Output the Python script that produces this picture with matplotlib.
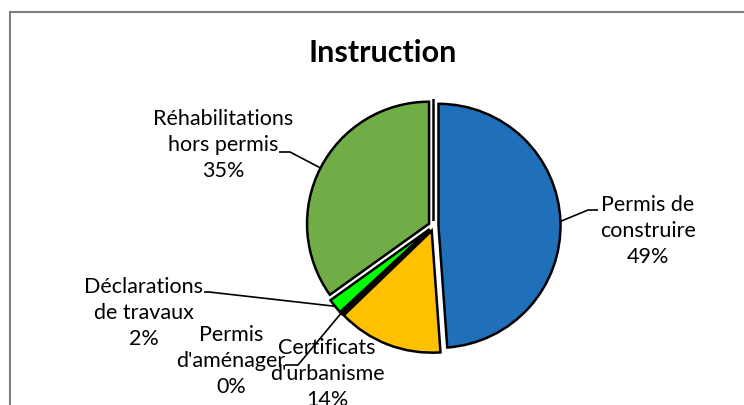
import matplotlib
matplotlib.use("Agg")
import matplotlib.pyplot as plt
import numpy as np
from matplotlib.patches import Rectangle

# ---- data ----
categories = ["Permis de\nconstruire", "Certificats\nd'urbanisme", "Permis\nd'aménager",
              "Déclarations\nde travaux", "Réhabilitations\nhors permis", ""]
values = [49, 14, 0.3, 2, 35, 0]
percent_labels = ["49%", "14%", "0%", "2%", "35%", ""]
colors = ["#1F70B9", "#FFC000", "#1A1A1A", "#00FF00", "#70AD47", "#FFFFFF"]
title = "Instruction"

# ---- layout (pixel coordinates, y measured from top) ----
W, H = 744, 406
label_pos = [(648, 231), (327, 374), (231, 361), (144, 313), (223, 145), None]
leader_elbows = [[(588, 211), (598, 211)],
                 None,
                 [(298, 366), (285, 366)],
                 [(209, 293), (204, 293)],
                 [(290, 153), (279, 153)],
                 None]

fig = plt.figure(figsize=(W / 100, H / 100), dpi=100)
ax = fig.add_axes([0, 0, 1, 1])

cx, cy, R = 433.5, H - 227, 122
explode_px = 5
wedges, _ = ax.pie(values, colors=colors, startangle=90, counterclock=False,
                   explode=[explode_px] * len(values), radius=R, center=(cx, cy),
                   wedgeprops=dict(edgecolor="black", linewidth=1.8))
ax.set_xlim(0, W)
ax.set_ylim(0, H)
ax.set_aspect("equal")
ax.axis("off")

font = "Lato"
for i, w in enumerate(wedges):
    if label_pos[i] is None:
        continue
    lx, ly = label_pos[i]
    ax.text(lx, H - ly, categories[i] + "\n" + percent_labels[i], ha="center", va="center",
            fontsize=15.5, family=font, linespacing=1.38, color="#000000")
    if leader_elbows[i] is not None:
        a = np.deg2rad((w.theta1 + w.theta2) / 2)
        px = w.center[0] + R * np.cos(a)
        py = w.center[1] + R * np.sin(a)
        xs = [px] + [e[0] for e in leader_elbows[i]]
        ys = [py] + [H - e[1] for e in leader_elbows[i]]
        ax.plot(xs, ys, color="black", lw=1.2, solid_capstyle="butt")

ax.text(383, H - 53, title, ha="center", va="center", fontsize=22,
        fontweight="bold", family=font)

# chart frame (cropped at right/bottom)
ax.add_patch(Rectangle((10, -50), 900, H - 13 + 50, fill=False,
                       edgecolor="#7F7F7F", lw=1.5))

fig.savefig("out.png", dpi=100, facecolor="white")
